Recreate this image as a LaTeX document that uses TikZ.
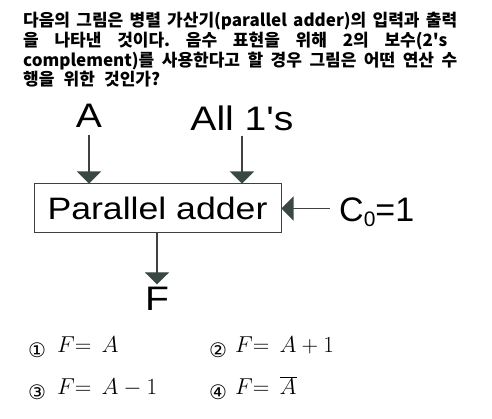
\documentclass[tikz,border=0pt]{standalone}
\usepackage{fix-cm}
\usepackage{fontspec}
\usetikzlibrary{arrows.meta}
\newfontfamily\hangul{Noto Sans CJK KR}
\newfontfamily\figfont{Liberation Sans}[FakeStretch=1.15]
\newfontfamily\figfontn{Liberation Sans}
\newfontfamily\symfont{DejaVu Sans}
\definecolor{linegray}{RGB}{64,64,64}
\definecolor{tipgray}{RGB}{58,72,68}
\newcommand{\Zeile}[4]{
	\node[anchor=base west, inner sep=0] (#1) at (23,#2) {\hangul\bfseries\fontsize{17}{20}\selectfont\frenchspacing\spaceskip=7pt plus 20pt minus 3pt\makebox[#3pt][s]{#4}};
}
\newcommand{\Choice}[6]{
	\node[anchor=base, inner sep=0] (#1n) at (#2,#4+5) {\symfont\fontsize{20}{20}\selectfont #5};
	\node[anchor=base west, inner sep=0] (#1f) at (#3,#4) {\fontsize{23}{27}\selectfont #6};
}
\newcommand{\Gl}{{=}\;\,}
\begin{document}
\begin{tikzpicture}[x=1pt,y=-1pt,
		label/.style={anchor=base, inner sep=0, font=\figfont\fontsize{34}{34}\selectfont},
		inarrow/.style={draw=linegray, line width=1.1pt, -{Triangle[length=12pt,width=24pt,color=tipgray]}}]
	\useasboundingbox (0,0) rectangle (492,419);
	\Zeile{zeileA}{27}{434}{다음의 그림은 병렬 가산기(parallel adder)의 입력과 출력}
	\Zeile{zeileB}{47}{424}{을 나타낸 것이다. 음수 표현을 위해 2의 보수(2's}
	\Zeile{zeileC}{67}{434}{complement)를 사용한다고 할 경우 그림은 어떤 연산 수}
	\Zeile{zeileD}{86}{137}{행을 위한 것인가?}
	\node[draw=linegray, line width=1pt, minimum width=247pt, minimum height=49pt, inner sep=0, font=\figfont\fontsize{31}{31}\selectfont] (adder) at (157.5,208.5) {Parallel adder};
	\node[label] (A) at (89,128) {A};
	\node[label] (all) at (242,131) {All 1's};
	\node[label, anchor=base west, font=\figfontn\fontsize{34}{34}\selectfont] (carry) at (339,222) {C\raisebox{-5pt}{\fontsize{21}{21}\selectfont 0}=1};
	\node[label] (F) at (157,310) {F};
	\draw[inarrow, shorten <=7pt] (A) -- (A |- adder.north);
	\draw[inarrow, shorten <=4pt] (all) -- (all |- adder.north);
	\draw[inarrow, shorten <=9pt] (carry.west |- adder.east) -- (adder.east);
	\draw[inarrow, shorten >=2pt] (F |- adder.south) -- (F.north);
	\Choice{one}{37}{57}{352}{①}{$F\Gl A$}
	\Choice{two}{218}{235}{352}{②}{$F\Gl A+1$}
	\Choice{three}{37}{57}{394}{③}{$F\Gl A-1$}
	\Choice{four}{218}{235}{394}{④}{$F\Gl \overline{A}$}
\end{tikzpicture}
\end{document}
